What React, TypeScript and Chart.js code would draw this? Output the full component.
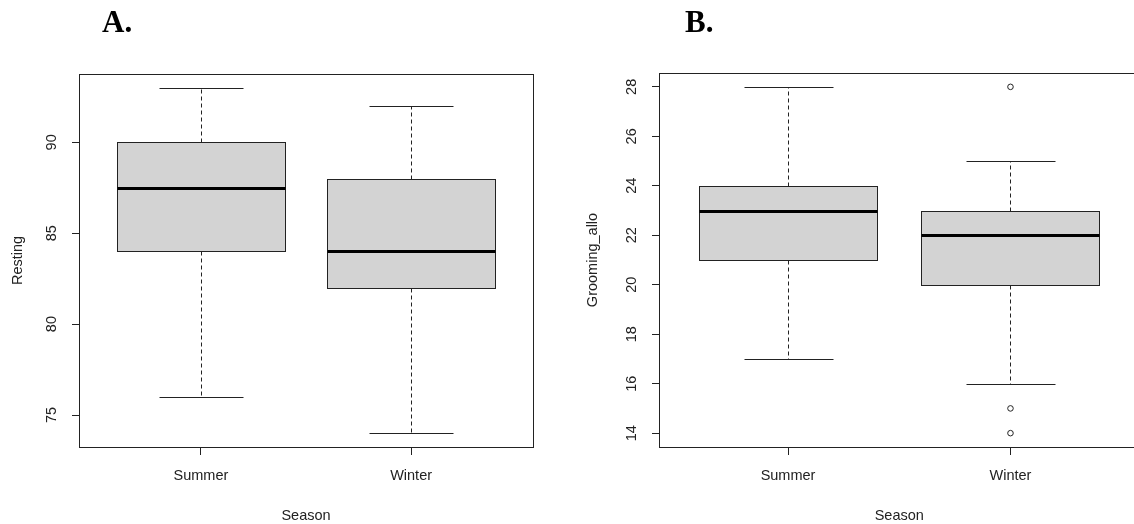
import React, { useEffect, useRef } from "react";
import { Chart, registerables } from "chart.js";

Chart.register(...registerables);

// ---------- data ----------
const SEASONS = ["Summer", "Winter"];
const SEASON_POS = [1, 2];

const RESTING_MIN = [76, 74];
const RESTING_Q1 = [84, 82];
const RESTING_MED = [87.5, 84];
const RESTING_Q3 = [90, 88];
const RESTING_MAX = [93, 92];
const RESTING_OUT_POS: number[] = [];
const RESTING_OUT_VAL: number[] = [];
const RESTING_TICKS = [75, 80, 85, 90];

const GROOM_MIN = [17, 16];
const GROOM_Q1 = [21, 20];
const GROOM_MED = [23, 22];
const GROOM_Q3 = [24, 23];
const GROOM_MAX = [28, 25];
const GROOM_OUT_POS = [2, 2, 2];
const GROOM_OUT_VAL = [28, 15, 14];
const GROOM_TICKS = [14, 16, 18, 20, 22, 24, 26, 28];

// ---------- style ----------
const INK = "#222222";
const BOX_FILL = "#d3d3d3";
const FONT = "'Liberation Sans', Arial, Helvetica, sans-serif";
const FONT_SIZE = 14.5;
const BOX_WIDTH = 0.8;
const CAP_WIDTH = 0.4;

type Stats = {
  min: number[];
  q1: number[];
  med: number[];
  q3: number[];
  max: number[];
};

const crisp = (v: number) => Math.round(v) + 0.5;

const rBoxPlugin = {
  id: "rBox",
  afterDatasetsDraw(chart: any, _args: any, opts: any) {
    const { ctx } = chart;
    const x = chart.scales.x;
    const y = chart.scales.y;
    const s: Stats = opts.stats;
    if (!s) return;
    ctx.save();
    for (let i = 0; i < s.med.length; i++) {
      const pos = SEASON_POS[i];
      const xl = crisp(x.getPixelForValue(pos - BOX_WIDTH / 2));
      const xr = crisp(x.getPixelForValue(pos + BOX_WIDTH / 2));
      const xc = crisp(x.getPixelForValue(pos));
      const cl = crisp(x.getPixelForValue(pos - CAP_WIDTH / 2));
      const cr = crisp(x.getPixelForValue(pos + CAP_WIDTH / 2));
      const yMin = crisp(y.getPixelForValue(s.min[i]));
      const yQ1 = crisp(y.getPixelForValue(s.q1[i]));
      const yMed = Math.round(y.getPixelForValue(s.med[i]));
      const yQ3 = crisp(y.getPixelForValue(s.q3[i]));
      const yMax = crisp(y.getPixelForValue(s.max[i]));

      ctx.strokeStyle = INK;
      ctx.lineWidth = 1;
      // dashed whiskers
      ctx.setLineDash([4, 3]);
      ctx.beginPath();
      ctx.moveTo(xc, yQ3);
      ctx.lineTo(xc, yMax);
      ctx.moveTo(xc, yQ1);
      ctx.lineTo(xc, yMin);
      ctx.stroke();
      ctx.setLineDash([]);
      // staples
      ctx.beginPath();
      ctx.moveTo(cl, yMax);
      ctx.lineTo(cr, yMax);
      ctx.moveTo(cl, yMin);
      ctx.lineTo(cr, yMin);
      ctx.stroke();
      // box
      ctx.fillStyle = BOX_FILL;
      ctx.fillRect(xl, yQ3, xr - xl, yQ1 - yQ3);
      ctx.strokeRect(xl, yQ3, xr - xl, yQ1 - yQ3);
      // median
      ctx.lineWidth = 3;
      ctx.strokeStyle = "#000";
      ctx.beginPath();
      ctx.moveTo(xl, yMed + 0.5);
      ctx.lineTo(xr, yMed + 0.5);
      ctx.stroke();
    }
    ctx.restore();
  },
  afterDraw(chart: any, _args: any, opts: any) {
    const { ctx, chartArea } = chart;
    const y = chart.scales.y;
    ctx.save();
    // frame
    ctx.strokeStyle = INK;
    ctx.lineWidth = 1;
    const l = crisp(chartArea.left);
    const t = crisp(chartArea.top);
    const r = crisp(chartArea.right);
    const b = crisp(chartArea.bottom);
    ctx.strokeRect(l, t, r - l, b - t);
    // rotated y tick labels (R style)
    ctx.fillStyle = INK;
    ctx.font = `${FONT_SIZE}px ${FONT}`;
    ctx.textAlign = "center";
    ctx.textBaseline = "middle";
    for (const tick of y.ticks) {
      const py = y.getPixelForValue(tick.value);
      ctx.save();
      ctx.translate(chartArea.left - (opts.labelOffset ?? 27), py);
      ctx.rotate(-Math.PI / 2);
      ctx.fillText(String(tick.value), 0, 0);
      ctx.restore();
    }
    ctx.restore();
  },
};

type PanelProps = {
  left: number;
  width: number;
  yTitle: string;
  yTitlePad: number;
  stats: Stats;
  outPos: number[];
  outVal: number[];
  yTicks: number[];
  padTop: number;
  padRight: number;
  axisWidth: number;
};

function Panel(props: PanelProps) {
  const ref = useRef<HTMLCanvasElement | null>(null);
  useEffect(() => {
    const canvas = ref.current;
    if (!canvas) return;
    const s = props.stats;
    const all = [...s.min, ...s.max, ...props.outVal];
    const lo = Math.min(...all);
    const hi = Math.max(...all);
    const ext = (hi - lo) * 0.04;
    const nCat = SEASONS.length;
    const xExt = nCat * 0.04;

    const chart = new Chart(canvas, {
      type: "scatter",
      data: {
        datasets: [
          {
            data: props.outPos.map((p, i) => ({ x: p, y: props.outVal[i] })),
            pointRadius: 2.8,
            pointHoverRadius: 2.8,
            borderWidth: 1,
            borderColor: INK,
            backgroundColor: "#ffffff",
          },
        ],
      },
      options: {
        responsive: false,
        animation: false,
        devicePixelRatio: 1,
        events: [],
        layout: {
          padding: { top: props.padTop, right: props.padRight, left: 0, bottom: 0 },
        },
        plugins: {
          legend: { display: false },
          tooltip: { enabled: false },
          rBox: { stats: props.stats, labelOffset: 27 },
        } as any,
        scales: {
          x: {
            type: "linear",
            min: 0.5 - xExt,
            max: nCat + 0.5 + xExt,
            afterBuildTicks: (scale: any) => {
              scale.ticks = SEASON_POS.map((v) => ({ value: v }));
            },
            afterFit: (scale: any) => {
              scale.height = 77;
            },
            grid: {
              drawOnChartArea: false,
              drawTicks: true,
              tickLength: 8,
              color: INK,
              lineWidth: 1,
            },
            border: { display: false },
            ticks: {
              autoSkip: false,
              maxRotation: 0,
              minRotation: 0,
              padding: 12,
              color: INK,
              font: { family: FONT, size: FONT_SIZE },
              callback: (v: any) => SEASONS[Number(v) - 1] ?? "",
            },
            title: {
              display: true,
              text: "Season",
              color: INK,
              font: { family: FONT, size: FONT_SIZE },
              padding: { top: 0, bottom: -1 },
            },
          },
          y: {
            type: "linear",
            min: lo - ext,
            max: hi + ext,
            afterBuildTicks: (scale: any) => {
              scale.ticks = props.yTicks.map((v) => ({ value: v }));
            },
            afterFit: (scale: any) => {
              scale.width = props.axisWidth;
            },
            grid: {
              drawOnChartArea: false,
              drawTicks: true,
              tickLength: 7,
              color: INK,
              lineWidth: 1,
            },
            border: { display: false },
            ticks: { display: false, autoSkip: false },
            title: {
              display: true,
              text: props.yTitle,
              color: INK,
              font: { family: FONT, size: FONT_SIZE },
              padding: { top: props.yTitlePad, bottom: 0 },
            },
          },
        },
      },
      plugins: [rBoxPlugin as any],
    });
    return () => chart.destroy();
  }, []);

  return (
    <canvas
      ref={ref}
      width={props.width}
      height={524}
      style={{
        position: "absolute",
        left: props.left,
        top: 0,
        width: props.width,
        height: 524,
      }}
    />
  );
}

const labelStyle: React.CSSProperties = {
  position: "absolute",
  top: 6,
  fontFamily: "'Liberation Serif', 'Times New Roman', serif",
  fontWeight: "bold",
  fontSize: 31,
  lineHeight: 1,
  color: "#000",
};

export default function App() {
  return (
    <div
      style={{
        position: "fixed",
        left: 0,
        top: 0,
        width: 1134,
        height: 524,
        overflow: "hidden",
        background: "#ffffff",
      }}
    >
      <Panel
        left={0}
        width={567}
        yTitle="Resting"
        yTitlePad={9}
        stats={{ min: RESTING_MIN, q1: RESTING_Q1, med: RESTING_MED, q3: RESTING_Q3, max: RESTING_MAX }}
        outPos={RESTING_OUT_POS}
        outVal={RESTING_OUT_VAL}
        yTicks={RESTING_TICKS}
        padTop={74}
        padRight={34}
        axisWidth={79}
      />
      <Panel
        left={567}
        width={600}
        yTitle="Grooming_allo"
        yTitlePad={17.5}
        stats={{ min: GROOM_MIN, q1: GROOM_Q1, med: GROOM_MED, q3: GROOM_Q3, max: GROOM_MAX }}
        outPos={GROOM_OUT_POS}
        outVal={GROOM_OUT_VAL}
        yTicks={GROOM_TICKS}
        padTop={73}
        padRight={27.5}
        axisWidth={92}
      />
      <div style={{ ...labelStyle, left: 102 }}>A.</div>
      <div style={{ ...labelStyle, left: 685 }}>B.</div>
    </div>
  );
}
